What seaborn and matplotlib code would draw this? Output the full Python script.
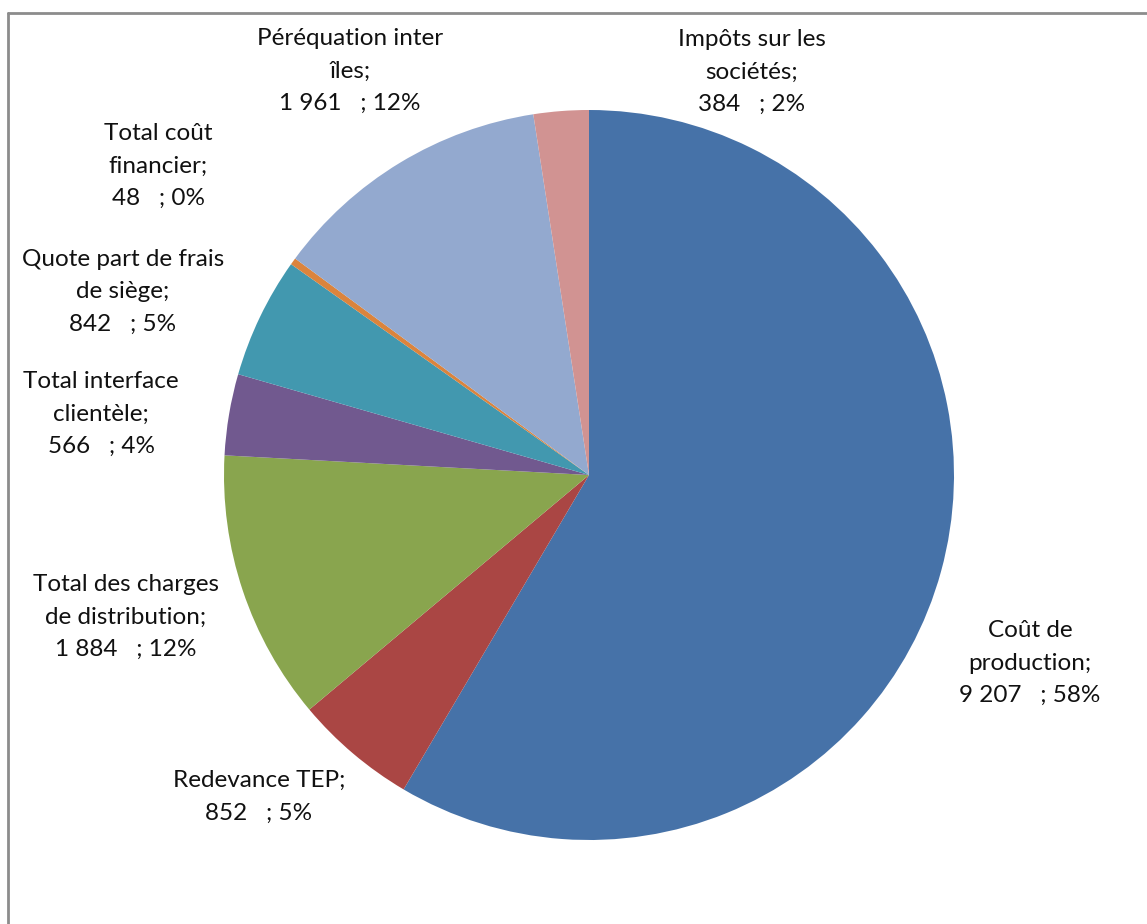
import matplotlib
matplotlib.use("Agg")
import matplotlib.pyplot as plt
import seaborn as sns
from matplotlib.lines import Line2D

# data (clockwise from 12 o'clock)
names = ["Coût de\nproduction;", "Redevance TEP;", "Total des charges\nde distribution;",
         "Total interface\nclientèle;", "Quote part de frais\nde siège;", "Total coût\nfinancier;",
         "Péréquation inter\nîles;", "Impôts sur les\nsociétés;"]
values = [9207, 852, 1884, 566, 842, 48, 1961, 384]
colors = ["#4672A8", "#AA4644", "#89A54E", "#71598F", "#4298AF", "#DB843D", "#93A9CF", "#D19392"]

# label centres in pixel coords (x, y from top)
label_pos = [(1030, 663), (259, 797), (126, 617), (101, 414), (123, 292), (158, 166), (350, 71), (752, 72)]

sns.set_theme(style="white")
plt.rcParams['font.family'] = ['Lato', 'DejaVu Sans']

W, H = 1147, 924
fig = plt.figure(figsize=(W / 100, H / 100), dpi=100)
ax = fig.add_axes([0, 0, 1, 1])

total = sum(values)
ax.pie(values, colors=colors, startangle=90, counterclock=False,
       center=(589, H - 475), radius=365, wedgeprops=dict(linewidth=0))
ax.set_xlim(0, W)
ax.set_ylim(0, H)
ax.set_aspect("equal")
ax.axis("off")

for name, v, (px, py) in zip(names, values, label_pos):
    pct = round(v / total * 100)
    num = f"{v:,}".replace(",", " ")
    txt = f"{name}\n{num}   ; {pct}%"
    ax.text(px, H - py, txt, ha="center", va="center", fontsize=17.5,
            color="#111111", linespacing=1.68, multialignment="center")

# outer frame of the chart area
fig.add_artist(Line2D([8 / W, 8 / W], [0, 1 - 13 / H], transform=fig.transFigure, color="#8c8c8c", lw=2))
fig.add_artist(Line2D([8 / W, 1], [1 - 13 / H, 1 - 13 / H], transform=fig.transFigure, color="#8c8c8c", lw=2))

fig.savefig("out.png", dpi=100, facecolor="white")
